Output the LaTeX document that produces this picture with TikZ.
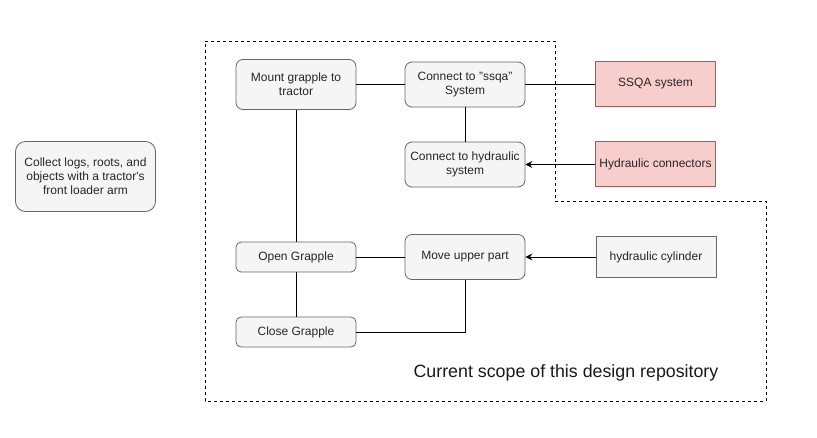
\documentclass[tikz,border=0pt]{standalone}
\usepackage{fontspec}
\setmainfont{Liberation Sans}
\usetikzlibrary{arrows.meta}
\definecolor{grayfill}{HTML}{F5F5F5}
\definecolor{graystroke}{HTML}{666666}
\definecolor{redfill}{HTML}{F8CECC}
\definecolor{redstroke}{HTML}{B85450}
\tikzset{
  base/.style={draw, line width=0.8pt, inner sep=0pt, align=center, font=\fontsize{12}{14}\selectfont, text=black!85},
  grayround/.style={base, fill=grayfill, draw=graystroke, rounded corners=7pt},
  redbox/.style={base, fill=redfill, draw=redstroke},
  graybox/.style={base, fill=grayfill, draw=graystroke},
  conn/.style={line width=0.9pt, draw=black},
  arrowconn/.style={conn, -{Stealth[length=7pt,width=7pt,inset=2.5pt]}},
  scopeline/.style={line width=0.9pt, dash pattern=on 3pt off 3pt}
}
\begin{document}
\begin{tikzpicture}[x=1pt,y=-1pt]
\useasboundingbox (0,0) rectangle (817,437);
% scope outline
\draw[scopeline] (205,41) -- (555,41) -- (555,201) -- (766,201) -- (766,401) -- (205,401) -- cycle;
% nodes
\node[grayround, minimum width=140pt, minimum height=70pt, rounded corners=10pt] (collect) at (85.5,176.5) {Collect logs, roots, and\\objects with a tractor\textquotesingle s\\front loader arm};
\node[grayround, minimum width=120pt, minimum height=50pt] (mount) at (296,84.5) {Mount grapple to\\tractor};
\node[grayround, minimum width=120pt, minimum height=45pt] (ssqa) at (465,84.5) {Connect to "ssqa"\\System};
\node[redbox, minimum width=120pt, minimum height=45pt] (ssqasys) at (655.5,84) {SSQA system};
\node[grayround, minimum width=120pt, minimum height=45pt] (hyd) at (465,164.5) {Connect to hydraulic\\system};
\node[redbox, minimum width=120pt, minimum height=45pt] (hydcon) at (655.5,164) {Hydraulic connectors};
\node[grayround, minimum width=120pt, minimum height=30pt, rounded corners=5pt] (open) at (296,257) {Open Grapple};
\node[grayround, minimum width=120pt, minimum height=45pt] (move) at (465,257) {Move upper part};
\node[graybox, minimum width=120pt, minimum height=41pt] (cyl) at (656,257) {hydraulic cylinder};
\node[grayround, minimum width=120pt, minimum height=30pt, rounded corners=5pt] (close) at (296,332) {Close Grapple};
\node[font=\fontsize{17.8}{21}\selectfont, text=black!90, inner sep=0pt] (scopelabel) at (566,373) {Current scope of this design repository};
% connectors
\draw[conn] (mount.east) -- (mount.east -| ssqa.west);
\draw[conn] (ssqa.east) -- (ssqa.east -| ssqasys.west);
\draw[conn] (ssqa.south) -- (hyd.north);
\draw[arrowconn] (hydcon.west |- hyd.east) -- (hyd.east);
\draw[conn] (mount.south) -- (open.north);
\draw[conn] (open.east) -- (open.east -| move.west);
\draw[arrowconn] (cyl.west) -- (cyl.west -| move.east);
\draw[conn] (open.south) -- (close.north);
\draw[conn] (close.east) -| (move.south);
\end{tikzpicture}
\end{document}
